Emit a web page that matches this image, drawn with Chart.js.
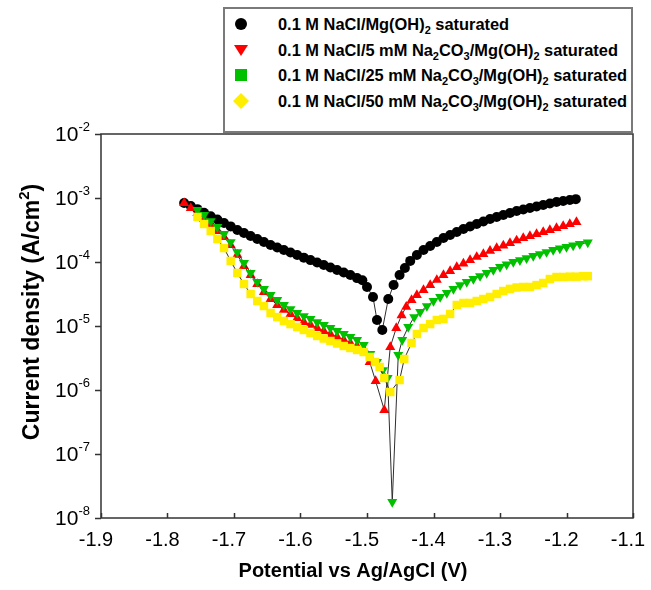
<!DOCTYPE html>
<html>
<head>
<meta charset="utf-8">
<script src="https://cdn.jsdelivr.net/npm/chart.js@4/dist/chart.umd.min.js"></script>
<style>
  body { margin: 0; background: #fff; }
  #wrap { position: relative; width: 651px; height: 590px; }
  #legend {
    position: absolute; left: 223px; top: 7px; width: 410px; height: 126px;
    box-sizing: border-box; border: 2px solid #7a7a7a; background: #fff;
    font: bold 16.4px "Liberation Sans", Arial, sans-serif; color: #000;
  }
  #legend .row { position: absolute; left: 0; height: 20px; line-height: 20px; white-space: nowrap; }
  #legend svg { position: absolute; left: 6px; top: 2px; }
  #legend span { position: absolute; left: 53px; top: 0; }
  #legend sub { font-size: 11px; vertical-align: -4px; line-height: 0; }
</style>
</head>
<body>
<div id="wrap">
  <canvas id="tafel" width="651" height="590"></canvas>
  <div id="legend"></div>
</div>
<script>
// Potentiodynamic polarisation scans, E (V vs Ag/AgCl) and |i| (A/cm2)
const blackE = [-1.775, -1.765, -1.755, -1.745, -1.735, -1.725, -1.715, -1.705, -1.695, -1.685,
  -1.675, -1.665, -1.655, -1.645, -1.635, -1.625, -1.615, -1.605, -1.595, -1.585,
  -1.575, -1.565, -1.555, -1.545, -1.535, -1.525, -1.515, -1.507, -1.500, -1.491,
  -1.485, -1.477, -1.468, -1.460, -1.451, -1.443, -1.435, -1.425, -1.415, -1.405,
  -1.395, -1.385, -1.375, -1.365, -1.355, -1.345, -1.335, -1.325, -1.315, -1.305,
  -1.295, -1.285, -1.275, -1.265, -1.255, -1.245, -1.235, -1.225, -1.215, -1.205,
  -1.195, -1.186];
const blackI = [8.35e-4, 7.5e-4, 6.7e-4, 5.9e-4, 5.2e-4, 4.6e-4, 4.07e-4, 3.6e-4, 3.16e-4, 2.84e-4,
  2.55e-4, 2.29e-4, 2.05e-4, 1.84e-4, 1.69e-4, 1.54e-4, 1.41e-4, 1.29e-4, 1.17e-4, 1.07e-4,
  9.8e-5, 8.97e-5, 8.2e-5, 7.5e-5, 6.85e-5, 6.26e-5, 5.6e-5, 5.2e-5, 4.07e-5, 2.84e-5,
  1.24e-5, 8.66e-6, 2.64e-5, 4.36e-5, 6.26e-5, 8.05e-5, 1.04e-4, 1.29e-4, 1.54e-4, 1.78e-4,
  2.05e-4, 2.37e-4, 2.64e-4, 2.94e-4, 3.28e-4, 3.59e-4, 3.92e-4, 4.3e-4, 4.7e-4, 5.05e-4,
  5.42e-4, 5.83e-4, 6.26e-4, 6.6e-4, 6.98e-4, 7.37e-4, 7.77e-4, 8.2e-4, 8.66e-4, 8.97e-4,
  9.3e-4, 9.6e-4];

const redE = [-1.775, -1.765, -1.755, -1.745, -1.735, -1.725, -1.715, -1.705, -1.695, -1.685,
  -1.675, -1.665, -1.655, -1.645, -1.635, -1.625, -1.615, -1.605, -1.595, -1.585,
  -1.575, -1.565, -1.555, -1.545, -1.535, -1.525, -1.515, -1.505, -1.496, -1.487,
  -1.474, -1.465, -1.456, -1.448, -1.441, -1.433, -1.425, -1.415, -1.405, -1.395,
  -1.385, -1.375, -1.365, -1.355, -1.345, -1.335, -1.325, -1.315, -1.305, -1.295,
  -1.285, -1.275, -1.265, -1.255, -1.245, -1.235, -1.225, -1.215, -1.205, -1.195,
  -1.185];
const redI = [8.35e-4, 6.98e-4, 5.83e-4, 4.7e-4, 3.79e-4, 3.05e-4, 2.46e-4, 1.84e-4, 1.29e-4, 8.66e-5,
  6.26e-5, 4.53e-5, 3.4e-5, 2.64e-5, 2.13e-5, 1.78e-5, 1.54e-5, 1.33e-5, 1.15e-5, 1.04e-5,
  9.3e-6, 8.35e-6, 7.5e-6, 6.75e-6, 6.06e-6, 5.42e-6, 4.87e-6, 4.07e-6, 2.74e-6, 1.38e-6,
  4.87e-7, 4.7e-6, 9.3e-6, 1.47e-5, 2.0e-5, 2.55e-5, 3.05e-5, 3.65e-5, 4.36e-5, 5.24e-5,
  6.26e-5, 7.24e-5, 8.35e-5, 9.48e-5, 1.07e-4, 1.2e-4, 1.33e-4, 1.49e-4, 1.65e-4, 1.81e-4,
  1.98e-4, 2.17e-4, 2.37e-4, 2.55e-4, 2.74e-4, 2.94e-4, 3.16e-4, 3.4e-4, 3.65e-4, 3.92e-4,
  4.22e-4];

const greenE = [-1.755, -1.745, -1.735, -1.725, -1.715, -1.705, -1.695, -1.685, -1.675, -1.665,
  -1.655, -1.645, -1.635, -1.625, -1.615, -1.605, -1.595, -1.585, -1.575, -1.565,
  -1.555, -1.545, -1.535, -1.525, -1.515, -1.505, -1.495, -1.485, -1.476, -1.469,
  -1.462, -1.453, -1.447, -1.438, -1.429, -1.420, -1.410, -1.400, -1.390, -1.380,
  -1.370, -1.360, -1.350, -1.340, -1.330, -1.320, -1.310, -1.300, -1.290, -1.280,
  -1.270, -1.260, -1.250, -1.240, -1.230, -1.220, -1.210, -1.200, -1.190, -1.180,
  -1.168];
const greenI = [6.5e-4, 5.42e-4, 4.36e-4, 3.52e-4, 2.74e-4, 2.05e-4, 1.43e-4, 9.64e-5, 6.75e-5, 4.87e-5,
  3.8e-5, 3.05e-5, 2.55e-5, 2.13e-5, 1.84e-5, 1.6e-5, 1.43e-5, 1.29e-5, 1.15e-5, 1.04e-5,
  9.3e-6, 8.35e-6, 7.5e-6, 6.75e-6, 6.06e-6, 5.05e-6, 3.65e-6, 2.74e-6, 2.05e-6, 1.54e-6,
  1.78e-8, 3.52e-6, 6.06e-6, 9.64e-6, 1.38e-5, 1.66e-5, 2.05e-5, 2.46e-5, 2.84e-5, 3.28e-5,
  3.8e-5, 4.36e-5, 4.87e-5, 5.42e-5, 6.03e-5, 6.75e-5, 7.5e-5, 8.35e-5, 9.14e-5, 1.0e-4,
  1.07e-4, 1.15e-4, 1.24e-4, 1.33e-4, 1.43e-4, 1.54e-4, 1.63e-4, 1.72e-4, 1.81e-4, 1.91e-4,
  2.02e-4];

const yellowE = [-1.755, -1.745, -1.735, -1.725, -1.715, -1.705, -1.695, -1.685, -1.675, -1.665,
  -1.655, -1.645, -1.635, -1.625, -1.615, -1.605, -1.595, -1.585, -1.575, -1.565,
  -1.555, -1.545, -1.535, -1.525, -1.515, -1.505, -1.496, -1.488, -1.481, -1.474,
  -1.465, -1.451, -1.444, -1.433, -1.425, -1.415, -1.405, -1.395, -1.385, -1.375,
  -1.365, -1.355, -1.345, -1.335, -1.325, -1.315, -1.305, -1.295, -1.285, -1.275,
  -1.265, -1.255, -1.245, -1.235, -1.225, -1.215, -1.205, -1.195, -1.185, -1.175,
  -1.168];
const yellowI = [5.05e-4, 3.92e-4, 3.05e-4, 2.29e-4, 1.65e-4, 1.04e-4, 6.75e-5, 4.53e-5, 3.16e-5, 2.46e-5,
  2.05e-5, 1.6e-5, 1.38e-5, 1.2e-5, 1.07e-5, 9.64e-6, 8.66e-6, 7.77e-6, 6.98e-6, 6.38e-6,
  5.83e-6, 5.33e-6, 4.87e-6, 4.53e-6, 4.22e-6, 3.92e-6, 3.28e-6, 2.74e-6, 2.29e-6, 1.54e-6,
  9.3e-7, 1.43e-6, 3.05e-6, 5.42e-6, 7.5e-6, 9.3e-6, 1.07e-5, 1.24e-5, 1.29e-5, 1.54e-5,
  2.13e-5, 2.29e-5, 2.29e-5, 2.46e-5, 2.64e-5, 2.84e-5, 3.16e-5, 3.52e-5, 3.8e-5, 4.0e-5,
  4.07e-5, 4.07e-5, 4.36e-5, 4.7e-5, 5.42e-5, 5.83e-5, 5.83e-5, 5.9e-5, 5.9e-5, 6.0e-5,
  6.0e-5];

const seriesLabels = [
  '0.1 M NaCl/Mg(OH)<sub>2</sub> saturated',
  '0.1 M NaCl/5 mM Na<sub>2</sub>CO<sub>3</sub>/Mg(OH)<sub>2</sub> saturated',
  '0.1 M NaCl/25 mM Na<sub>2</sub>CO<sub>3</sub>/Mg(OH)<sub>2</sub> saturated',
  '0.1 M NaCl/50 mM Na<sub>2</sub>CO<sub>3</sub>/Mg(OH)<sub>2</sub> saturated'
];
const xTicks = [-1.9, -1.8, -1.7, -1.6, -1.5, -1.4, -1.3, -1.2, -1.1];
const yDecades = [-8, -7, -6, -5, -4, -3, -2];

const FONT = '"Liberation Sans", Arial, sans-serif';
const AXIS = '#333';

const toPoints = (xs, ys) => xs.map((x, i) => ({ x, y: ys[i] }));

function series(label, xs, ys, color, style, rotation, radius, order) {
  return {
    label,
    data: toPoints(xs, ys),
    showLine: true,
    borderColor: '#2e2e2e',
    borderWidth: 1,
    pointStyle: style,
    rotation,
    pointRadius: radius,
    pointHoverRadius: radius,
    pointBackgroundColor: color,
    pointBorderColor: color,
    pointBorderWidth: 0,
    order
  };
}

// frame, inward/outward tick marks, power-of-ten labels and axis titles
const axisArt = {
  id: 'axisArt',
  beforeDatasetsDraw(chart) {
    const { ctx, chartArea: a, scales: { x, y } } = chart;
    ctx.save();
    ctx.strokeStyle = AXIS;
    ctx.lineWidth = 1.5;
    ctx.strokeRect(a.left, a.top, a.right - a.left, a.bottom - a.top);
    ctx.beginPath();
    yDecades.forEach(e => {
      const py = Math.round(y.getPixelForValue(Math.pow(10, e))) + 0.5;
      ctx.moveTo(a.left - 6, py);
      ctx.lineTo(a.left, py);
    });
    xTicks.forEach(t => {
      const px = Math.round(x.getPixelForValue(t)) + 0.5;
      ctx.moveTo(px, a.bottom);
      ctx.lineTo(px, a.bottom - 5);
    });
    ctx.stroke();
    ctx.restore();
  },
  afterDraw(chart) {
    const { ctx, chartArea: a, scales: { y } } = chart;
    ctx.save();
    ctx.fillStyle = '#000';
    ctx.textAlign = 'right';
    ctx.textBaseline = 'middle';
    yDecades.forEach(e => {
      const py = y.getPixelForValue(Math.pow(10, e));
      const sup = String(e);
      const rx = a.left - 11;
      ctx.font = `13px ${FONT}`;
      const sw = ctx.measureText(sup).width;
      ctx.fillText(sup, rx, py - 7);
      ctx.font = `21px ${FONT}`;
      ctx.fillText('10', rx - sw, py + 1);
    });

    // x title
    ctx.textAlign = 'center';
    ctx.font = `bold 20px ${FONT}`;
    ctx.fillText('Potential vs Ag/AgCl (V)', (a.left + a.right) / 2 - 14, 571);

    // y title, with a superscript 2
    ctx.translate(33, (a.top + a.bottom) / 2 - 14);
    ctx.rotate(-Math.PI / 2);
    const main = 'Current density (A/cm';
    ctx.font = `bold 23px ${FONT}`;
    const mw = ctx.measureText(main).width;
    const cw = ctx.measureText(')').width;
    ctx.font = `bold 15px ${FONT}`;
    const tw = ctx.measureText('2').width;
    const start = -(mw + tw + cw) / 2;
    ctx.textAlign = 'left';
    ctx.font = `bold 23px ${FONT}`;
    ctx.fillText(main, start, 0);
    ctx.fillText(')', start + mw + tw, 0);
    ctx.font = `bold 15px ${FONT}`;
    ctx.fillText('2', start + mw, -8);
    ctx.restore();
  }
};

const chart = new Chart(document.getElementById('tafel'), {
  type: 'scatter',
  data: {
    datasets: [
      series('black', blackE, blackI, '#000000', 'circle', 0, 5, 4),
      series('red', redE, redI, '#ff0000', 'triangle', 0, 5.8, 3),
      series('green', greenE, greenI, '#00c000', 'triangle', 180, 5.8, 2),
      series('yellow', yellowE, yellowI, '#ffee00', 'rect', 0, 6, 1)
    ].map((d, i) => Object.assign(d, { label: seriesLabels[i].replace(/<\/?sub>/g, '') }))
  },
  options: {
    responsive: false,
    animation: false,
    layout: { padding: { top: 134, right: 18, left: 0, bottom: 0 } },
    plugins: { legend: { display: false }, tooltip: { enabled: false } },
    scales: {
      x: {
        type: 'linear',
        min: -1.9,
        max: -1.1,
        afterFit: s => { s.height = 72; s.paddingLeft = 0; s.paddingRight = 0; },
        afterBuildTicks: s => { s.ticks = xTicks.map(v => ({ value: v })); },
        grid: { display: false, drawTicks: false },
        border: { display: false },
        ticks: {
          color: '#000',
          font: { size: 20, family: FONT },
          padding: 10,
          labelOffset: -5,
          maxRotation: 0,
          autoSkip: false,
          callback: v => v.toFixed(1)
        }
      },
      y: {
        type: 'logarithmic',
        min: 1e-8,
        max: 1e-2,
        afterFit: s => { s.width = 101; s.paddingTop = 0; s.paddingBottom = 0; },
        afterBuildTicks: s => { s.ticks = yDecades.map(e => ({ value: Math.pow(10, e) })); },
        grid: { display: false, drawTicks: false },
        border: { display: false },
        ticks: { display: false }
      }
    }
  },
  plugins: [axisArt]
});

// legend box with the marker shapes used in the key
const keyMarks = [
  '<circle cx="10" cy="8" r="6" fill="#000"/>',
  '<polygon points="3,3 17,3 10,14" fill="#ff0000"/>',
  '<rect x="4" y="2" width="12" height="12" fill="#00c000"/>',
  '<polygon points="10,0 18,8 10,16 2,8" fill="#ffee00"/>'
];
const rowTops = [12, 38, 63, 89];
document.getElementById('legend').innerHTML = seriesLabels.map((lab, i) =>
  `<div class="row" style="top:${rowTops[i] - 7}px">` +
  `<svg width="20" height="16" viewBox="0 0 20 16">${keyMarks[i]}</svg>` +
  `<span>${lab}</span></div>`
).join('');
</script>
</body>
</html>
